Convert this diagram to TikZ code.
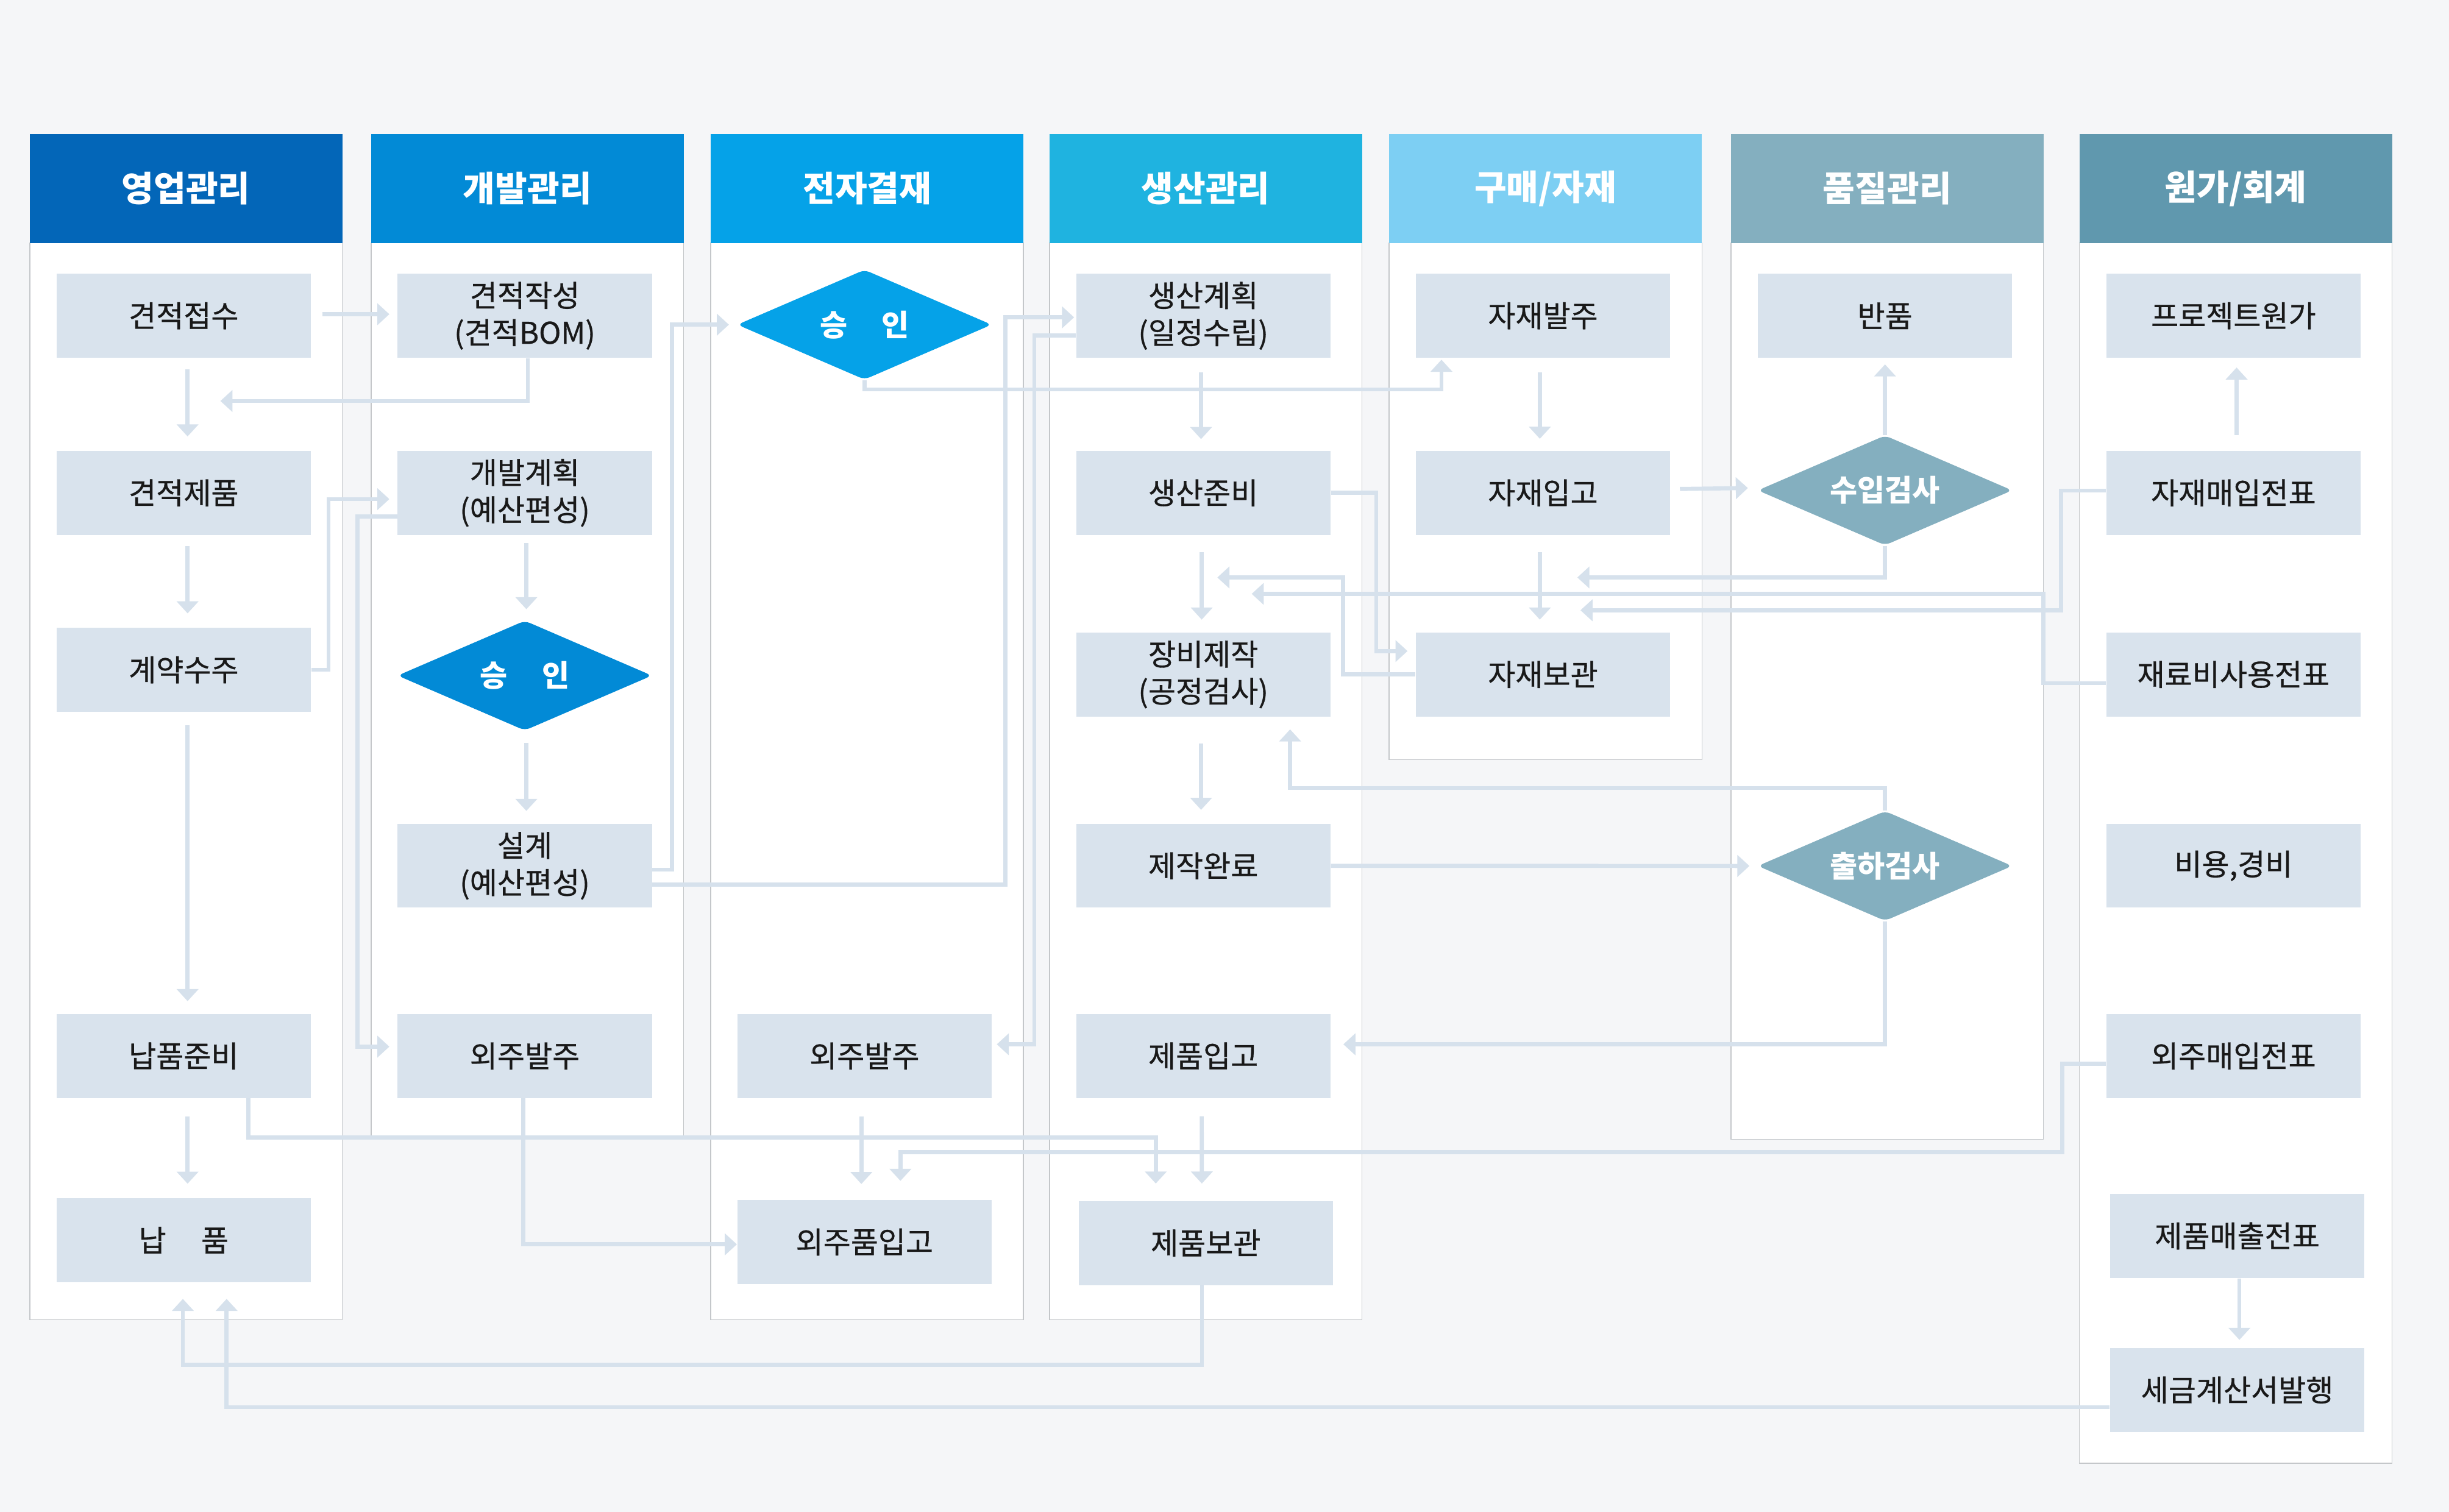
\documentclass[tikz,border=0pt]{standalone}
\usepackage{fontspec}
\setmainfont{Noto Sans CJK KR}
\newfontfamily\boxfont{Noto Sans CJK KR}[FakeBold=0.6]
\usetikzlibrary{arrows.meta,calc,shapes.geometric}

\definecolor{bgc}{RGB}{245,246,248}
\definecolor{panelc}{RGB}{196,199,202}
\definecolor{boxc}{RGB}{217,227,237}
\definecolor{flowc}{RGB}{214,225,236}
\definecolor{h1c}{RGB}{3,102,184}
\definecolor{h2c}{RGB}{2,138,214}
\definecolor{h3c}{RGB}{5,162,232}
\definecolor{h4c}{RGB}{31,179,224}
\definecolor{h5c}{RGB}{125,207,243}
\definecolor{h6c}{RGB}{132,175,191}
\definecolor{h7c}{RGB}{96,152,174}

\begin{document}
\begin{tikzpicture}[x=0.025cm,y=-0.025cm,
  hd/.style={minimum width=5cm,minimum height=1.742cm,inner sep=0pt,text=white,font=\fontsize{15.9}{18}\selectfont\bfseries},
  box/.style={fill=boxc,minimum width=4.07cm,minimum height=1.342cm,inner sep=0pt,align=center,text=black!90,font=\boxfont\fontsize{13.6}{16.9}\selectfont},
  decide/.style={diamond,aspect=2.3,minimum width=4.075cm,minimum height=1.76cm,inner sep=0pt,rounded corners=2.5pt,text=white,font=\fontsize{13.6}{15}\selectfont\bfseries},
  panel/.style={fill=white,draw=panelc,line width=0.4pt},
  flow/.style={draw=flowc,line width=1.85pt,-{Triangle[length=5.5pt,width=9.7pt]}}]
\useasboundingbox (0,0) rectangle (1568,968);
\fill[bgc] (0,0) rectangle (1568,968);

\draw[panel] (19.1,155.6) rectangle (219.2,845);
\draw[panel] (237.7,155.6) rectangle (437.7,727.5);
\draw[panel] (455,155.6) rectangle (655.3,845);
\draw[panel] (672,155.6) rectangle (872,845);
\draw[panel] (889.3,155.6) rectangle (1089.7,486.4);
\draw[panel] (1108.3,155.6) rectangle (1308.3,729.5);
\draw[panel] (1331.4,155.6) rectangle (1531.5,937);

\node[hd,fill=h1c] (h1) at (119.1,120.7) {영업관리};
\node[hd,fill=h2c] (h2) at (337.7,120.7) {개발관리};
\node[hd,fill=h3c] (h3) at (555.2,120.7) {전자결재};
\node[hd,fill=h4c] (h4) at (772,120.7) {생산관리};
\node[hd,fill=h5c] (h5) at (989.5,120.7) {구매/자재};
\node[hd,fill=h6c] (h6) at (1208.3,120.7) {품질관리};
\node[hd,fill=h7c] (h7) at (1431.5,120.7) {원가/회계};

\node[box] (qrecv) at (117.6,202.2) {견적접수};
\node[box] (qprod) at (117.6,315.6) {견적제품};
\node[box] (contract) at (117.6,428.9) {계약수주};
\node[box] (dprep) at (117.6,676.2) {납품준비};
\node[box] (deliv) at (117.6,794.1) {납\hspace{1.17em}품};
\node[box] (qwrite) at (336,202.2) {견적작성\\(견적BOM)};
\node[box] (devplan) at (336,315.6) {개발계획\\(예산편성)};
\node[decide,fill=h2c] (devok) at (336,432.6) {승\hspace{1.15em}인};
\node[box] (design) at (336,554.4) {설계\\(예산편성)};
\node[box] (outord) at (336,676.2) {외주발주};
\node[decide,fill=h3c] (eok) at (553.5,207.9) {승\hspace{1.15em}인};
\node[box] (eoutord) at (553.5,676.2) {외주발주};
\node[box] (outin) at (553.5,795.3) {외주품입고};
\node[box] (pplan) at (770.4,202.2) {생산계획\\(일정수립)};
\node[box] (pprep) at (770.4,315.6) {생산준비};
\node[box] (mfg) at (770.4,431.9) {장비제작\\(공정검사)};
\node[box] (mfgdone) at (770.4,554.4) {제작완료};
\node[box] (pin) at (770.4,676.2) {제품입고};
\node[box] (pstore) at (772,796) {제품보관};
\node[box] (morder) at (987.9,202.2) {자재발주};
\node[box] (min) at (987.9,315.6) {자재입고};
\node[box] (mstore) at (987.9,431.9) {자재보관};
\node[box] (ret) at (1206.9,202.2) {반품};
\node[decide,fill=h6c] (incheck) at (1206.9,314) {수입검사};
\node[decide,fill=h6c] (outcheck) at (1206.9,554.5) {출하검사};
\node[box] (pcost) at (1430,202.2) {프로젝트원가};
\node[box] (mbuy) at (1430,315.6) {자재매입전표};
\node[box] (muse) at (1430,431.9) {재료비사용전표};
\node[box] (expense) at (1430,554.4) {비용,경비};
\node[box] (obuy) at (1430,676.2) {외주매입전표};
\node[box] (psale) at (1432.4,791.4) {제품매출전표};
\node[box] (tax) at (1432.4,890.1) {세금계산서발행};

\draw[flow] ($(qrecv.east)+(7,-1)$) -- ($(qwrite.west)+(-5,-1)$);
\draw[flow] ($(qrecv.south)+(2.5,7)$) -- ($(qprod.north)+(2.5,-9)$);
\draw[flow] ($(qwrite.south)+(2,0)$) |- ($(qprod.north)+(23.5,-31.7)$);
\draw[flow] ($(qprod.south)+(2.5,7)$) -- ($(contract.north)+(2.5,-9)$);
\draw[flow] (contract.east) -- ++(11,0) |- ($(devplan.west)+(-5,4)$);
\draw[flow] ($(devplan.west)+(0,15)$) -- ++(-25.5,0) |- ($(outord.west)+(-5,-6)$);
\draw[flow] ($(devplan.south)+(1,5)$) -- ($(devok.north)+(1,-7)$);
\draw[flow] ($(devok.south)+(1,7.5)$) -- ($(design.north)+(1,-8)$);
\draw[flow] ($(design.east)+(0,2.5)$) -- ++(12.5,0) |- ($(eok.west)+(-5,0)$);
\draw[flow] ($(design.east)+(0,12)$) -| ($(pplan.west)+(-45,1)$) -- ($(pplan.west)+(-1,1)$);
\draw[flow] ($(pplan.west)+(0,12.5)$) -| ($(eoutord.east)+(27,-7.5)$) -- ($(eoutord.east)+(3,-7.5)$);
\draw[flow] (eok.south) |- ($(morder.south)+(-65,20)$) -- ($(morder.south)+(-65,1)$);
\draw[flow] ($(pplan.south)+(-1.4,9)$) -- ($(pprep.north)+(-1.4,-7.3)$);
\draw[flow] ($(morder.south)+(-2,9)$) -- ($(min.north)+(-2,-7.5)$);
\draw[flow] (pprep.east) -| ($(mstore.west)+(-25,-15)$) -- ($(mstore.west)+(-5,-15)$);
\draw[flow] (mstore.west) -| ($(mfg.north)+(89.5,-35)$) -- ($(mfg.north)+(9,-35)$);
\draw[flow] ($(pprep.south)+(-1,11)$) -- ($(mfg.north)+(-1,-8)$);
\draw[flow] ($(muse.west)+(0,5.5)$) -- ++(-40,0) |- ($(mfg.north)+(31,-24.5)$);
\draw[flow] ($(mbuy.west)+(0,-1.5)$) -- ++(-28.6,0) |- ($(mstore.north)+(24,-14)$);
\draw[flow] (incheck.south) |- ($(mstore.north)+(22,-35)$);
\draw[flow] ($(min.east)+(6,-2.5)$) -- ($(incheck.west)+(-6,-1.5)$);
\draw[flow] (incheck.north) -- ($(ret.south)+(0,4)$);
\draw[flow] ($(mbuy.north)+(2,-10)$) -- ($(pcost.south)+(2,6)$);
\draw[flow] ($(min.south)+(-2,11)$) -- ($(mstore.north)+(-2,-8)$);
\draw[flow] (outcheck.north) |- ($(mfg.south)+(55.6,45.5)$) -- ($(mfg.south)+(55.6,8)$);
\draw[flow] ($(mfg.south)+(-1.4,17)$) -- ($(mfgdone.north)+(-1.4,-8.7)$);
\draw[flow] (mfgdone.east) -- ($(outcheck.west)+(-5,0)$);
\draw[flow] (outcheck.south) |- ($(pin.east)+(8,-7.5)$);
\draw[flow] ($(outord.south)+(-1,0)$) |- ($(outin.west)+(0,1.5)$);
\draw[flow] ($(eoutord.south)+(-2,11.4)$) -- ($(outin.north)+(-2,-10)$);
\draw[flow] ($(obuy.west)+(0,5)$) -- ++(-28,0) |- ($(outin.north)+(23,-30.5)$) -- ($(outin.north)+(23,-12)$);
\draw[flow] ($(dprep.south)+(41.5,0)$) |- ($(pstore.north)+(-32,-40.5)$) -- ($(pstore.north)+(-32,-11)$);
\draw[flow] ($(pin.south)+(-1,11.4)$) -- ($(pstore.north)+(-2.5,-11)$);
\draw[flow] ($(dprep.south)+(2.5,11.4)$) -- ($(deliv.north)+(2.5,-9)$);
\draw[flow] ($(contract.south)+(2.5,8.3)$) -- ($(dprep.north)+(2.5,-8)$);
\draw[flow] ($(pstore.south)+(-2.5,0)$) |- ($(deliv.south)+(-0.5,52.8)$) -- ($(deliv.south)+(-0.5,10.5)$);
\draw[flow] ($(tax.west)+(0,11)$) -| ($(deliv.south)+(27.5,10.5)$);
\draw[flow] ($(psale.south)+(1.4,0)$) -- ($(tax.north)+(1.4,-5)$);
\end{tikzpicture}
\end{document}
